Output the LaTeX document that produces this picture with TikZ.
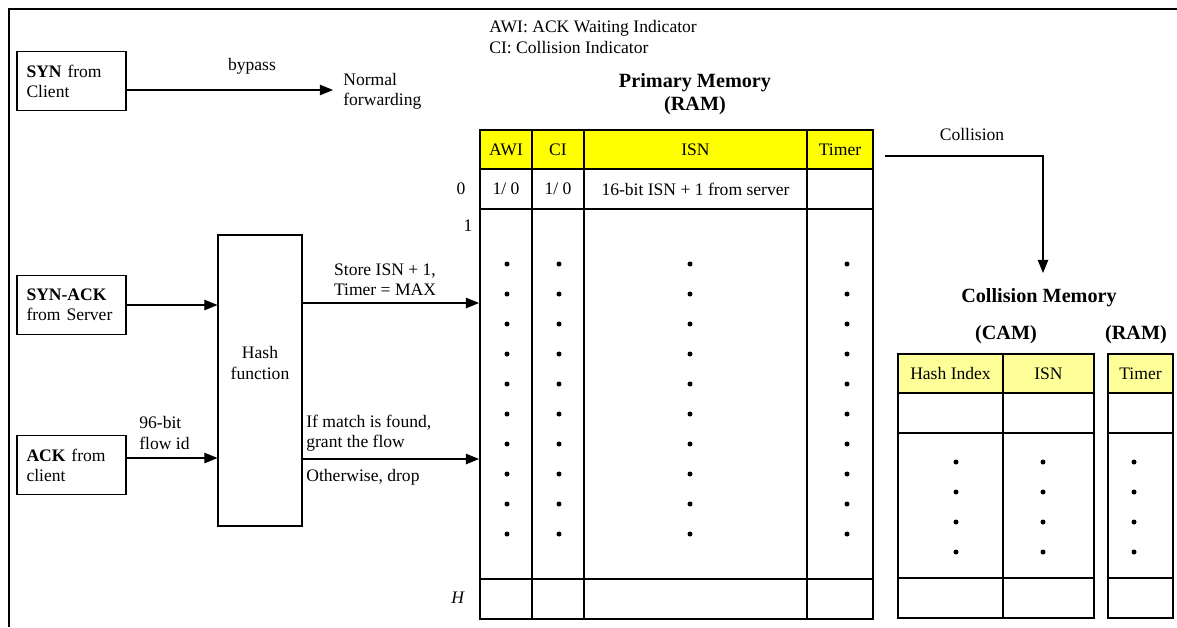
\documentclass[tikz,border=0pt]{standalone}
\usepackage{fontspec}
\setmainfont{Liberation Serif}
\usetikzlibrary{positioning, arrows.meta, fit}
\definecolor{ramyellow}{RGB}{255,255,0}
\definecolor{camyellow}{RGB}{255,255,153}

\begin{document}
\begin{tikzpicture}[
    x=0.02cm, y=-0.02cm,
    every node/.style={font=\fontsize{10}{11.5}\selectfont},
    every label/.style={font=\fontsize{10}{11.5}\selectfont, inner sep=0pt},
    inbox/.style={draw, line width=0.6pt, text width=1.8cm, inner xsep=0.19cm, minimum height=1.18cm, align=left},
    cell/.style={draw, line width=0.6pt, inner sep=0pt},
    title/.style={font=\fontsize{11.5}{13}\selectfont\bfseries, align=center},
    note/.style={align=left, inner sep=0pt},
    >={Triangle[length=7.5pt, width=6pt]}
]
  \useasboundingbox (0,0) rectangle (1177,627);
  \draw[line width=1.2pt] (1177,9) -- (9,9) -- (9,627);

  % inputs
  \node[inbox] (syn) at (71.5,81) {\textbf{SYN} from\\Client};
  \node[inbox] (synack) at (71.5,305) {\textbf{SYN-ACK}\\from Server};
  \node[inbox] (ack) at (71.5,465) {\textbf{ACK} from\\client};
  \node[cell, fit={(218,235) (302,526)}] (hash) {};
  \node[align=center] (hashtxt) at (260,363) {Hash\\function};

  \node[note, anchor=west] (fwd) at (343,91) {Normal\\forwarding};
  \node (bypass) at (252,66) {bypass};
  \node[note, anchor=west] (flowid) at (139,433) {96-bit\\flow id};
  \node[align=center, inner sep=0pt] (store) at (385,280) {Store ISN + 1,\\Timer = MAX};
  \node[note, anchor=west] (match) at (306,433) {If match is found,\\grant the flow};
  \node[note, anchor=west] (drop) at (306,477) {Otherwise, drop};
  \node[note, anchor=west] (legend) at (489,37) {AWI: ACK Waiting Indicator\\CI: Collision Indicator};

  \coordinate (fwdin) at (333,90);
  \coordinate (ackout) at ([yshift=0.14cm]ack.east);
  \coordinate (in1) at (479,303);
  \coordinate (in2) at (479,459);
  \draw[->, line width=0.6pt] (fwdin -| syn.east) -- (fwdin);
  \draw[->, line width=0.6pt] (synack) -- (synack -| hash.west);
  \draw[->, line width=0.6pt] (ackout) -- (ackout -| hash.west);
  \draw[->, line width=0.6pt] (in1 -| hash.east) -- (in1);
  \draw[->, line width=0.6pt] (in2 -| hash.east) -- (in2);

  % primary memory
  \node[title] (ptitle) at (695,94) {Primary Memory\\(RAM)};
  \node[cell, fill=ramyellow, fit={(480,130) (532,169)}, label=center:AWI] (awi) {};
  \node[cell, fill=ramyellow, fit={(532,130) (584,169)}, label=center:CI] (ci) {};
  \node[cell, fill=ramyellow, fit={(584,130) (807,169)}, label=center:ISN] (isn) {};
  \node[cell, fill=ramyellow, fit={(807,130) (873,169)}, label=center:Timer] (tmr) {};
  \node[cell, fit={(480,169) (532,209)}, label=center:{1/ 0}] (awi0) {};
  \node[cell, fit={(532,169) (584,209)}, label=center:{1/ 0}] (ci0) {};
  \node[cell, fit={(584,169) (807,209)}, label=center:{16-bit ISN + 1 from server}] (isn0) {};
  \node[cell, fit={(807,169) (873,209)}] (tmr0) {};
  \foreach \xa/\xb/\nm in {480/532/awi, 532/584/ci, 584/807/isn, 807/873/tmr} {
    \node[cell, fit={(\xa,209) (\xb,579)}] (\nm body) {};
    \node[cell, fit={(\xa,579) (\xb,619)}] (\nm last) {};
  }
  \foreach \k in {0,...,9}
    \foreach \x in {507,559,690,847}
      \fill (\x,264+30*\k) circle[radius=0.05cm];
  \node (r0) at (461,189) {0};
  \node (r1) at (468,226) {1};
  \node (rH) at (458,598) {\textit{H}};

  % collision memory
  \node (coll) at (972,134) {Collision};
  \coordinate (colout) at (885,156);
  \coordinate (colin) at (1043,273);
  \draw[->, line width=0.6pt] (colout) -| (colin);

  \node[title] (ctitle) at (1039,298) {Collision Memory};
  \node[title] (cam) at (1006,335) {(CAM)};
  \node[title] (cram) at (1136,335) {(RAM)};
  \node[cell, fill=camyellow, fit={(898,354) (1003,393)}, label=center:{Hash Index}] (hix) {};
  \node[cell, fill=camyellow, fit={(1003,354) (1094,393)}, label=center:ISN] (cisn) {};
  \node[cell, fill=camyellow, fit={(1108,354) (1173,393)}, label=center:Timer] (ctmr) {};
  \foreach \xa/\xb/\nm in {898/1003/hix, 1003/1094/cisn, 1108/1173/ctmr} {
    \node[cell, fit={(\xa,393) (\xb,433)}] (\nm0) {};
    \node[cell, fit={(\xa,433) (\xb,578)}] (\nm body) {};
    \node[cell, fit={(\xa,578) (\xb,618)}] (\nm last) {};
  }
  \foreach \k in {0,...,3}
    \foreach \x in {956,1043,1134}
      \fill (\x,462+30*\k) circle[radius=0.05cm];
\end{tikzpicture}
\end{document}
